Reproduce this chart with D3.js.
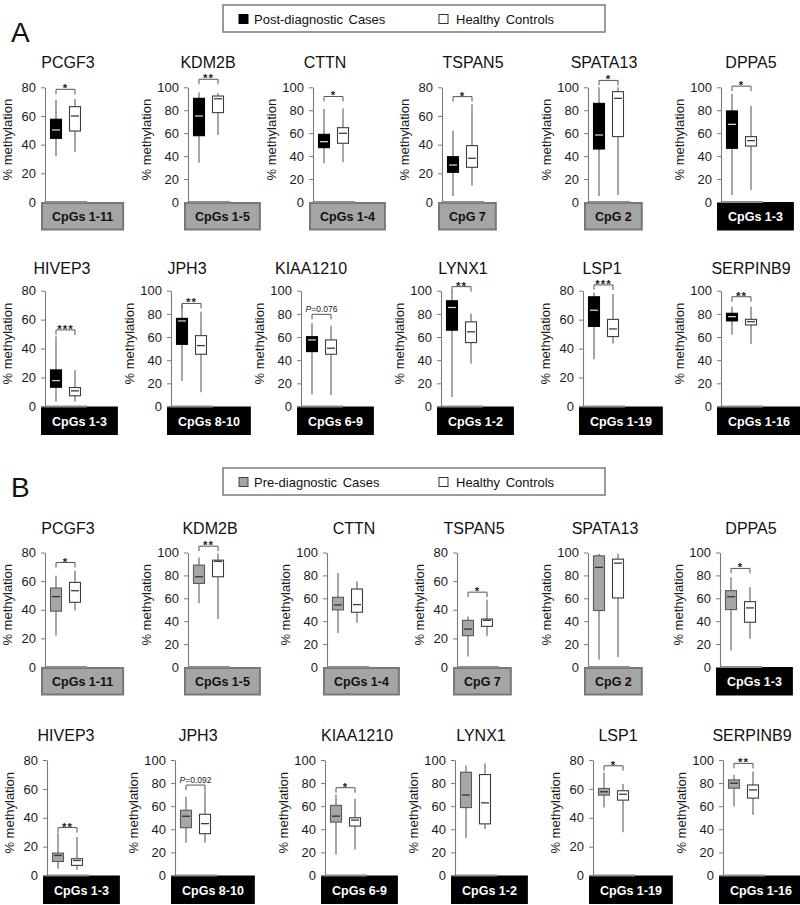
<!DOCTYPE html>
<html><head><meta charset="utf-8">
<script src="https://cdn.jsdelivr.net/npm/d3@7"></script>
<style>
body{margin:0;background:#fff;}
svg{display:block;font-family:Arial,"Liberation Sans",sans-serif;}
</style>
</head><body>
<svg id="c" width="800" height="905"></svg>
<script>
// ---------------- DATA ----------------
const genes = ["PCGF3","KDM2B","CTTN","TSPAN5","SPATA13","DPPA5","HIVEP3","JPH3","KIAA1210","LYNX1","LSP1","SERPINB9"];
const cpgRegions = ["CpGs 1-11","CpGs 1-5","CpGs 1-4","CpG 7","CpG 2","CpGs 1-3","CpGs 1-3","CpGs 8-10","CpGs 6-9","CpGs 1-2","CpGs 1-19","CpGs 1-16"];
const regionSet = ["I","I","I","I","I","II","II","II","II","II","II","II"];
const yMax = [80,100,100,80,100,100,80,100,100,100,80,100];
const ticks80 = [0,20,40,60,80];
const ticks100 = [0,20,40,60,80,100];
const groups = ["case","control"];
const legendA = ["Post-diagnostic Cases","Healthy Controls"];
const legendB = ["Pre-diagnostic Cases","Healthy Controls"];
const panelLetters = ["A","B"];
const yTitle = "% methylation";

// [whisker low, Q1, median, Q3, whisker high] (% methylation)
const postCases = [
 [32,44.4,50.2,57.7,71.2],
 [34.3,57.8,75,90.4,95.6],
 [33.7,47.4,52.6,59,81.1],
 [4.2,20.7,25.8,31.6,49.8],
 [5.2,46.2,58.4,86,100],
 [6.1,46.8,67.7,79.4,94.2],
 [3.4,13.3,17.9,25.3,48.3],
 [22.1,53.7,73.9,76.1,87.6],
 [10.6,47.4,57.5,60.3,71.8],
 [8.1,65.9,85.5,91.3,100],
 [32.7,55.3,66.5,75.8,78.8],
 [62,73.9,77.6,80.5,86.2]
];
const postControls = [
 [35.1,49.5,60,66.5,71.9],
 [58.4,77.9,90,92.4,94.8],
 [34.6,51.2,59.9,64.8,81.7],
 [11.4,24.2,30.5,39.3,68.1],
 [6.1,57,90.4,96.2,100],
 [10.5,48.8,53.5,57,84],
 [3.4,7.4,10.8,13.1,25.3],
 [12.4,45.1,52.6,61.2,81.9],
 [10,45.1,50.3,57.5,69.8],
 [37,55.2,64.5,73.1,80.3],
 [43.6,48.3,53.6,60.2,77.7],
 [54,70.4,73.3,75.3,86.2]
];
const preCases = [
 [22,39,49.2,55.2,63.8],
 [55.7,73,78.8,89,95.7],
 [29.6,49.9,54.2,60.9,82],
 [7.4,21.9,26.5,32.6,35.3],
 [6.4,49.3,87,97.1,99],
 [14.5,50.1,61.4,66.7,78.3],
 [4.6,9.7,13.9,15.5,29.4],
 [28.4,41.4,51.3,56.5,68.1],
 [18.2,46.2,51.4,60.7,70.2],
 [32.4,58.8,69.7,89.4,95.3],
 [47.1,55.7,58,60.3,71.4],
 [59.8,75.6,79.9,82.8,87]
];
const preControls = [
 [39.4,45.2,53.3,59.1,67.2],
 [42,78.8,92.2,93.3,99.1],
 [38.6,47.8,54.5,68.1,74.8],
 [21.4,28.4,32.6,33.5,47],
 [8.7,60.3,90.7,94.2,99],
 [24.6,39.1,51.6,57.1,69.6],
 [3.9,7,10.4,11.6,26.7],
 [28.4,36.2,44.9,53,73.9],
 [22.5,42.8,48,50,66.5],
 [40.3,44.7,62.9,87.4,97],
 [30,52.2,56.3,58.7,63.3],
 [52.6,67,74.1,78.4,90]
];
const postSig = ["*","**","*","*","*","*","***","**","P=0.076","**","***","**"];
const postSigLevel = [78.6,107,92,73.5,106,101,52.9,89,79.6,103.5,84,94.8];
const preSig = ["*","**","","*","","*","**","P=0.092","*","","*","**"];
const preSigLevel = [73,105.5,null,52.3,null,86.1,33.2,78.3,76,null,76,97.1];

// ---------------- LAYOUT ----------------
const rowsLayout = [
 {cohort:"post", first:0, titleY:68,  top:87.3,  zero:202,   axisX:[45,188,313,442,588,721], titleX:[68,208,325,473,604,751]},
 {cohort:"post", first:6, titleY:274, top:290.7, zero:406.5, axisX:[45,171,301,441,583,721], titleX:[62,187,311,463,602,751]},
 {cohort:"pre",  first:0, titleY:534, top:552.5, zero:667,   axisX:[45,188,327,457,588,720], titleX:[68,210,354,474,605,751]},
 {cohort:"pre",  first:6, titleY:741, top:760,   zero:875.5, axisX:[47,175,325,455,593,723], titleX:[66,198,357,481,618,752]}
];
const cohortData = {
 post:{cases:postCases, controls:postControls, sig:postSig, sigLevel:postSigLevel},
 pre:{cases:preCases, controls:preControls, sig:preSig, sigLevel:preSigLevel}
};
const caseStyle = {
 post:{fill:"#000", stroke:"#000", median:"#cfcfcf"},
 pre:{fill:"#a6a6a6", stroke:"#595959", median:"#333"}
};
const ctrlStyle = {fill:"#fff", stroke:"#3c3c3c", median:"#3c3c3c"};
const boxW = 11;

const svg = d3.select("#c");

// panel letters
svg.append("text").attr("x",11).attr("y",42).attr("font-size",28).attr("fill","#111").text(panelLetters[0]);
svg.append("text").attr("x",11).attr("y",497).attr("font-size",28).attr("fill","#111").text(panelLetters[1]);

// legends
function legend(y0, labels, caseFill, caseStroke){
  const g = svg.append("g");
  g.append("rect").attr("x",223).attr("y",y0).attr("width",382).attr("height",27)
    .attr("fill","#fff").attr("stroke","#7a7a7a").attr("stroke-width",1.5);
  g.append("rect").attr("x",239).attr("y",y0+9.5).attr("width",9).attr("height",9)
    .attr("fill",caseFill).attr("stroke",caseStroke).attr("stroke-width",1);
  g.append("text").attr("x",254).attr("y",y0+18.5).attr("font-size",13).attr("fill","#111").attr("word-spacing",2).text(labels[0]);
  g.append("rect").attr("x",439).attr("y",y0+9.5).attr("width",9).attr("height",9)
    .attr("fill","#fff").attr("stroke","#333").attr("stroke-width",1);
  g.append("text").attr("x",456).attr("y",y0+18.5).attr("font-size",13).attr("fill","#111").attr("word-spacing",2).text(labels[1]);
}
legend(5, legendA, "#000", "#000");
legend(468, legendB, "#a6a6a6", "#444");

// panels
rowsLayout.forEach(row => {
  const cd = cohortData[row.cohort];
  for (let j = 0; j < 6; j++) {
    const i = row.first + j;
    const ax = row.axisX[j];
    const max = yMax[i];
    const y = d3.scaleLinear().domain([0, max]).range([row.zero, row.top]);
    const x = d3.scalePoint().domain(groups).range([ax + 11, ax + 30]);
    const g = svg.append("g");

    // title
    g.append("text").attr("x", row.titleX[j]).attr("y", row.titleY)
      .attr("text-anchor","middle").attr("font-size",16).attr("fill","#111").text(genes[i]);

    // CpG region label box
    const lb = g.append("g");
    const isGray = regionSet[i] === "I";
    const rect = lb.append("rect");
    const t = lb.append("text").attr("font-size",12.5).attr("font-weight","bold")
      .attr("fill", isGray ? "#111" : "#fff").attr("text-anchor","middle").text(cpgRegions[i]);
    const tw = t.node().getComputedTextLength();
    const bw = tw + 20;
    rect.attr("x", ax - 3).attr("y", row.zero + 1).attr("width", bw).attr("height", 26.5)
      .attr("fill", isGray ? "#a5a5a5" : "#000")
      .attr("stroke", isGray ? "#777" : "#000").attr("stroke-width", 2);
    t.attr("x", ax - 3 + bw / 2).attr("y", row.zero + 19);

    // x axis baseline
    g.append("line").attr("x1", ax).attr("x2", ax + 42).attr("y1", row.zero).attr("y2", row.zero)
      .attr("stroke","#8c8c8c").attr("stroke-width",2.2);

    // y axis
    const axis = d3.axisLeft(y).tickValues(max === 80 ? ticks80 : ticks100)
      .tickSize(4).tickSizeOuter(0).tickPadding(5).tickFormat(d3.format("d"));
    const ag = g.append("g").attr("transform", `translate(${ax},0)`).call(axis);
    ag.select(".domain").attr("stroke","#7a7a7a").attr("stroke-width",1.1);
    ag.selectAll(".tick line").attr("stroke","#7a7a7a");
    ag.selectAll(".tick text").attr("font-size",13).attr("fill","#1a1a1a")
      .attr("font-family","Arial, 'Liberation Sans', sans-serif");

    // y title
    g.append("text").attr("transform", `translate(${ax - (max === 80 ? 33 : 37)},${(row.top + row.zero) / 2 - 5}) rotate(-90)`)
      .attr("text-anchor","middle").attr("font-size",13).attr("fill","#1a1a1a").text(yTitle);

    // boxes
    const stats = [cd.cases[i], cd.controls[i]];
    const styles = [caseStyle[row.cohort], ctrlStyle];
    groups.forEach((grp, k) => {
      const s = stats[k], st = styles[k], cx = x(grp);
      g.append("line").attr("x1",cx).attr("x2",cx).attr("y1",y(s[0])).attr("y2",y(s[1]))
        .attr("stroke","#6a6a6a").attr("stroke-width",1.2);
      g.append("line").attr("x1",cx).attr("x2",cx).attr("y1",y(s[3])).attr("y2",y(s[4]))
        .attr("stroke","#6a6a6a").attr("stroke-width",1.2);
      g.append("rect").attr("x", cx - boxW / 2).attr("y", y(s[3]))
        .attr("width", boxW).attr("height", y(s[1]) - y(s[3]))
        .attr("fill", st.fill).attr("stroke", st.stroke).attr("stroke-width",1.1);
      g.append("line").attr("x1", cx - boxW / 2 + 1.5).attr("x2", cx + boxW / 2 - 1.5)
        .attr("y1", y(s[2])).attr("y2", y(s[2]))
        .attr("stroke", st.median).attr("stroke-width",1.3);
    });

    // significance bracket
    const sig = cd.sig[i];
    if (sig) {
      const by = y(cd.sigLevel[i]);
      const x1 = x(groups[0]), x2 = x(groups[1]);
      g.append("path").attr("d", `M${x1},${by + 5}V${by}H${x2}V${by + 5}`)
        .attr("fill","none").attr("stroke","#555").attr("stroke-width",1);
      if (sig.startsWith("P")) {
        const st = g.append("text").attr("x",(x1 + x2) / 2).attr("y", by - 2)
          .attr("text-anchor","middle").attr("font-size",8.5).attr("fill","#222");
        st.append("tspan").attr("font-style","italic").text("P");
        st.append("tspan").text(sig.slice(1));
      } else {
        g.append("text").attr("x",(x1 + x2) / 2).attr("y", by + 3)
          .attr("text-anchor","middle").attr("font-size",11.5).attr("font-weight","bold")
          .attr("letter-spacing",1).attr("fill","#222").text(sig);
      }
    }
  }
});
</script>
</body></html>
